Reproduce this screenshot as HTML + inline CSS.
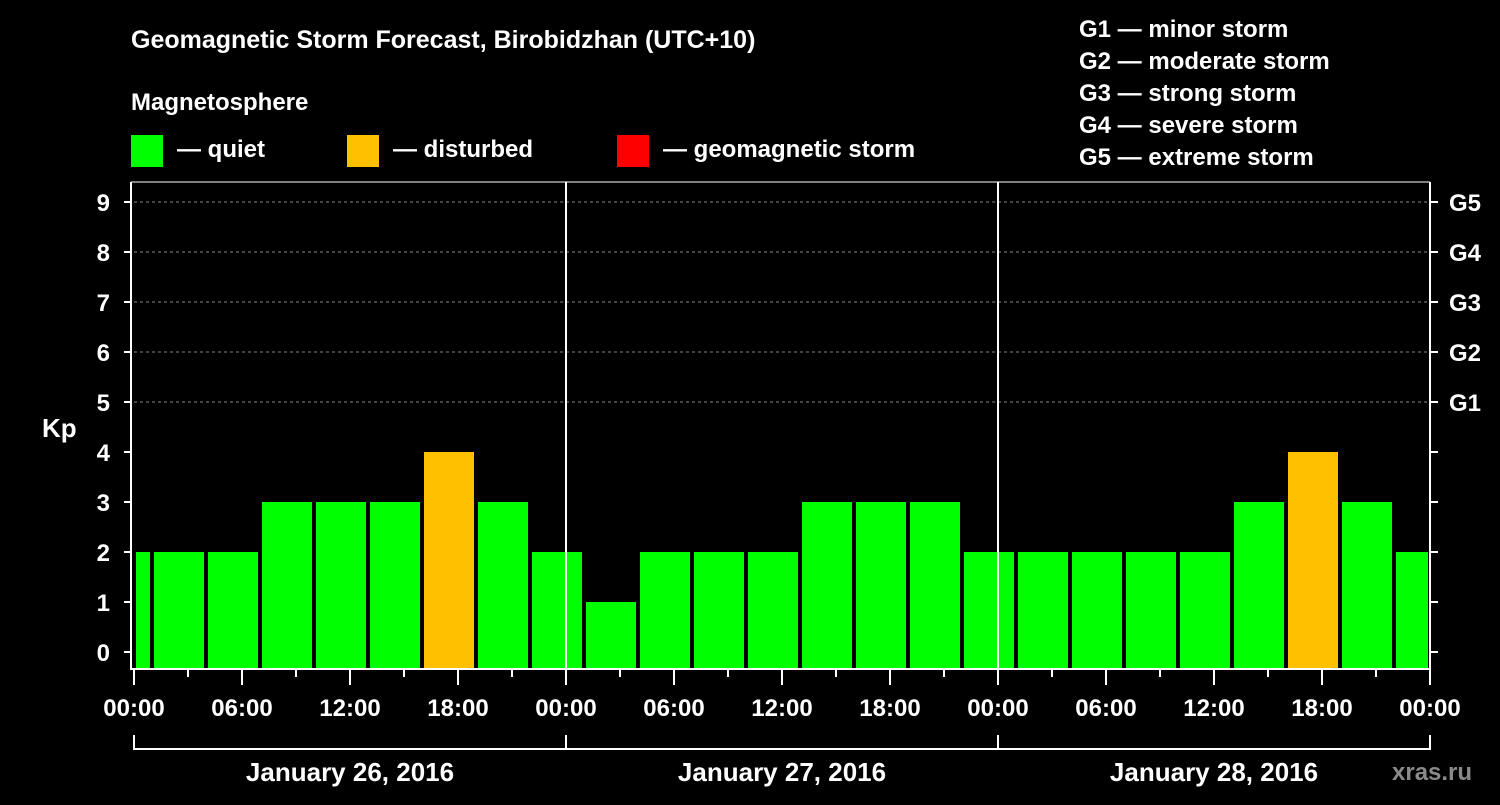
<!DOCTYPE html>
<html><head><meta charset="utf-8"><style>
body{margin:0;background:#000;width:1500px;height:800px;overflow:hidden}
svg text{font-family:"Liberation Sans",Arial,sans-serif;font-weight:bold;fill:#fff}
</style></head><body>
<svg id="chart" width="1500" height="800" xmlns="http://www.w3.org/2000/svg">
<rect width="1500" height="800" fill="#000"/>
<text x="131" y="48" font-size="25">Geomagnetic Storm Forecast, Birobidzhan (UTC+10)</text>
<text x="131" y="110" font-size="24">Magnetosphere</text>
<g>
<rect x="131" y="135" width="32" height="32" fill="#00ff00"/>
<text x="177" y="157" font-size="24">— quiet</text>
<rect x="347" y="135" width="32" height="32" fill="#ffc000"/>
<text x="393" y="157" font-size="24">— disturbed</text>
<rect x="617" y="135" width="32" height="32" fill="#ff0000"/>
<text x="663" y="157" font-size="24">— geomagnetic storm</text>
</g>
<g font-size="24">
<text x="1079" y="37">G1 — minor storm</text>
<text x="1079" y="69">G2 — moderate storm</text>
<text x="1079" y="101">G3 — strong storm</text>
<text x="1079" y="133">G4 — severe storm</text>
<text x="1079" y="165">G5 — extreme storm</text>
</g>
<text x="42" y="437" font-size="26">Kp</text>
<text x="1392" y="780" font-size="24" fill="#888" style="fill:#8a8a8a">xras.ru</text>
<g id="plot"></g>
</svg>
<script>
const kpValues=[2,2,2,3,3,3,4,3,2,1,2,2,2,3,3,3,2,2,2,2,2,3,4,3,2];
const firstBarStartHour=-2;
const barHours=3;
const dayLabels=["January 26, 2016","January 27, 2016","January 28, 2016"];
const hourTickLabels=["00:00","06:00","12:00","18:00"];
const gLabels=["G1","G2","G3","G4","G5"];

const NS="http://www.w3.org/2000/svg";
const X0=134,PX_H=432/24,X1=X0+72*PX_H,YB=669,TOP=182;
const xs=h=>X0+h*PX_H;
const ys=v=>652-50*v;
const plot=document.getElementById('plot');
function mk(tag,a,parent){const e=document.createElementNS(NS,tag);for(const k in a)e.setAttribute(k,a[k]);(parent||plot).appendChild(e);return e;}

// grid
for(let v=5;v<=9;v++){
const g=mk('line',{x1:X0,x2:X1,y1:ys(v),y2:ys(v),stroke:'#888','stroke-dasharray':'3,3','stroke-width':1});


}
// bars
kpValues.forEach((v,i)=>{
let s=firstBarStartHour+i*barHours,e=s+barHours;
let xa=Math.max(xs(s)+2,X0+2),xb=Math.min(xs(e)-2,X1-2);
const col=v>=5?'#ff0000':(v>=4?'#ffc000':'#00ff00');
const r=mk('rect',{x:xa,y:ys(v),width:xb-xa,height:YB-ys(v),fill:col});


});
// frame
const fr=mk('path',{d:`M${X0-3} ${TOP}V${YB}H${X1}V${TOP}`,stroke:'#fff','stroke-width':2,fill:'none'});


mk('line',{x1:X0-3,x2:X1,y1:TOP,y2:TOP,stroke:'#fff','stroke-width':1});
// day dividers
for(let d=1;d<3;d++){
const l=mk('line',{x1:xs(24*d),x2:xs(24*d),y1:TOP,y2:YB,stroke:'#fff','stroke-width':2});


}
// y ticks
for(let v=0;v<=9;v++){
mk('line',{x1:X0-10,x2:X0-3,y1:ys(v),y2:ys(v),stroke:'#fff','stroke-width':2});
mk('line',{x1:X1,x2:X1+8,y1:ys(v),y2:ys(v),stroke:'#fff','stroke-width':2});
const t=mk('text',{x:X0-24,y:ys(v)+9,'font-size':24,'text-anchor':'end'});t.textContent=v;


}
gLabels.forEach((g,i)=>{
const t=mk('text',{x:X1+19,y:ys(5+i)+9,'font-size':24});t.textContent=g;


});
// x ticks
for(let h=0;h<=72;h+=3){
const major=h%6===0;
mk('line',{x1:xs(h),x2:xs(h),y1:YB,y2:YB+(major?16:8),stroke:'#fff','stroke-width':2});
if(major&&h%24!==0||h===0||h%24===0){}
}
for(let h=0;h<=72;h+=6){
const t=mk('text',{x:xs(h),y:716,'font-size':24,'text-anchor':'middle'});
t.textContent=hourTickLabels[(h/6)%4];


}
// day brackets
mk('line',{x1:X0,x2:X1,y1:749,y2:749,stroke:'#fff','stroke-width':2});
for(let d=0;d<=3;d++)mk('line',{x1:xs(24*d),x2:xs(24*d),y1:735,y2:750,stroke:'#fff','stroke-width':2});
dayLabels.forEach((s,d)=>{
const t=mk('text',{x:xs(24*d+12),y:781,'font-size':26,'text-anchor':'middle'});t.textContent=s;


});
</script>
</body></html>
